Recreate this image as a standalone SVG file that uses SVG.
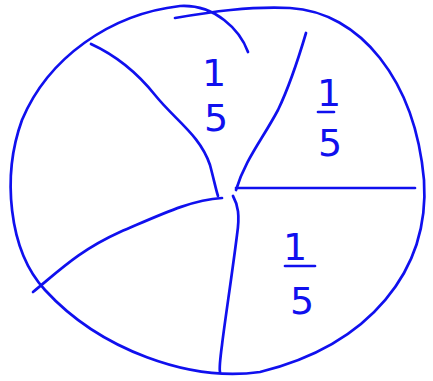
<svg xmlns="http://www.w3.org/2000/svg" width="433" height="381" viewBox="0 0 433 381">
<style>
.s{fill:none;stroke:#1010ee;stroke-width:2.7;stroke-linecap:round;stroke-linejoin:round}
.t{fill:#1010ee;font-family:"DejaVu Sans",sans-serif;font-size:38px;text-anchor:middle}
</style>
<rect width="433" height="381" fill="#fff"/>
<g id="circle">
<path class="s" d="M175,18 C210,12 250,6 290,8 C360,12 415,80 424,180 C430,270 370,345 260,372 C190,382 100,350 45,290 C8,250 2,175 22,120 C48,58 110,14 180,6 C215,4 240,30 248,52"/>
</g>
<g id="connectors">
<path class="s" d="M91,44 C115,55 135,70 155,95 C175,120 200,135 210,165 C214,180 216,190 218,196"/>
<path class="s" d="M306,33 C298,60 290,85 278,110 C262,140 245,160 236,190"/>
<path class="s" d="M236,188 C300,188 360,188 415,188"/>
<path class="s" d="M233,196 C238,205 240,215 237,235 C232,275 225,320 222,345 C220,360 219,368 220,372"/>
<path class="s" d="M33,292 C60,270 80,250 120,232 C160,215 190,200 222,198"/>
</g>
<g id="label-top">
<text class="t" x="214" y="86">1</text>
<text class="t" x="216" y="131">5</text>
</g>
<g id="label-right">
<text class="t" x="329" y="106">1</text>
<line class="s" x1="318" y1="112" x2="334" y2="112"/>
<text class="t" x="330" y="156">5</text>
</g>
<g id="label-bottom">
<text class="t" x="295" y="260">1</text>
<line class="s" x1="285" y1="266" x2="315" y2="266"/>
<text class="t" x="302" y="314">5</text>
</g>
</svg>
